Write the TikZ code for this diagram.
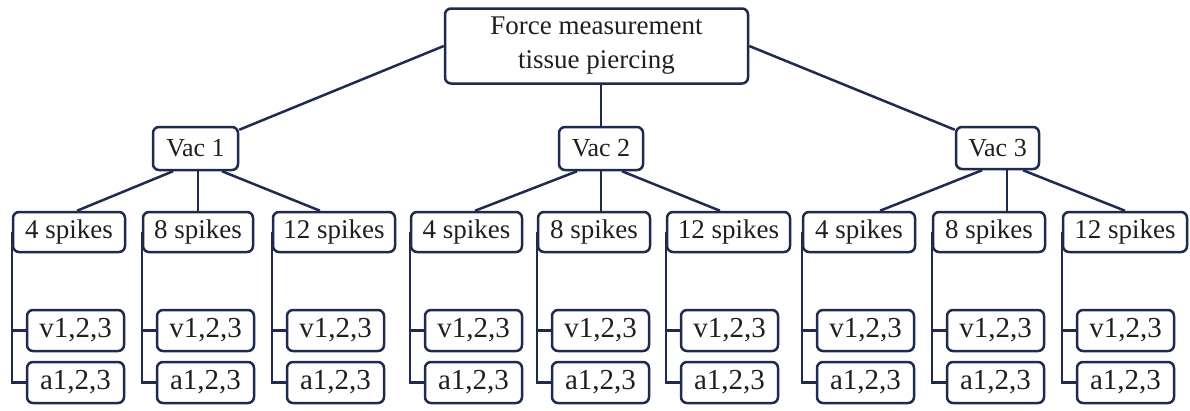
\documentclass[tikz,border=0pt]{standalone}
\usepackage{fontspec}
\setmainfont{Liberation Serif}
\definecolor{navy}{HTML}{1D2B4F}
\begin{document}
\begin{tikzpicture}[x=1pt,y=-1pt,
  box/.style={draw=navy,line width=2.5pt,rounded corners=6pt,fill=white,inner sep=0pt,
    font=\fontsize{26}{34}\selectfont,text=black!88,align=center},
  big/.style={font=\fontsize{27}{34}\selectfont},
  leaf/.style={font=\fontsize{29}{34}\selectfont},
  conn/.style={draw=navy,line width=2.5pt}]
\useasboundingbox (0,0) rectangle (1190,410);
% root
\node[box,big,minimum width=303pt,minimum height=75pt] (top) at (596.5,46) {Force measurement\\tissue piercing};
% vac nodes
\node[box,minimum width=85pt,minimum height=43pt] (vac1) at (195.5,148.5) {Vac 1};
\node[box,minimum width=84pt,minimum height=43pt] (vac2) at (601,148.5) {Vac 2};
\node[box,minimum width=83pt,minimum height=42pt] (vac3) at (997.5,148) {Vac 3};
% spikes, v, a
\foreach \g/\i/\L/\W/\n in {1/1/13/112/4, 1/2/143/110/8, 1/3/273/122/12,
                             2/1/411/111/4, 2/2/538/112/8, 2/3/667/123/12,
                             3/1/803/112/4, 3/2/933/112/8, 3/3/1063/124/12}{
  \node[box,big,minimum width=\W pt,minimum height=40pt] (s\g\i) at (\L+\W/2,232) {\n{} spikes};
  \node[box,leaf,minimum width=97pt,minimum height=41pt] (v\g\i) at (\L+62.5,330.5) {v1,2,3};
  \node[box,leaf,minimum width=97pt,minimum height=41pt] (a\g\i) at (\L+62.5,382.5) {a1,2,3};
  \draw[conn] (s\g\i.west) |- (a\g\i.west);
  \draw[conn] (s\g\i.west |- v\g\i.west) -- (v\g\i.west);
}
% root connectors
\draw[conn] (top.west) -- ([yshift=-4pt]vac1.north east);
\draw[conn] (top.east) -- ([yshift=-4pt]vac3.north west);
\draw[conn] (vac2.north) -- (vac2.north |- top.south);
% vac 1 connectors
\draw[conn] ([xshift=-22.5pt]vac1.south) -- ([xshift=8pt]s11.north);
\draw[conn] (s12.north |- vac1.south) -- (s12.north);
\draw[conn] ([xshift=26.5pt]vac1.south) -- ([xshift=-14pt]s13.north);
% vac 2 connectors
\draw[conn] ([xshift=-24pt]vac2.south) -- ([xshift=8.5pt]s21.north);
\draw[conn] (vac2.south) -- (vac2.south |- s22.north);
\draw[conn] ([xshift=21pt]vac2.south) -- ([xshift=-8.5pt]s23.north);
% vac 3 connectors
\draw[conn] ([xshift=-15.5pt]vac3.south) -- ([xshift=21pt]s31.north);
\draw[conn] ([xshift=9.5pt]vac3.south) -- ([xshift=9.5pt]vac3.south |- s32.north);
\draw[conn] ([xshift=25.5pt]vac3.south) -- (s33.north);
\end{tikzpicture}
\end{document}
